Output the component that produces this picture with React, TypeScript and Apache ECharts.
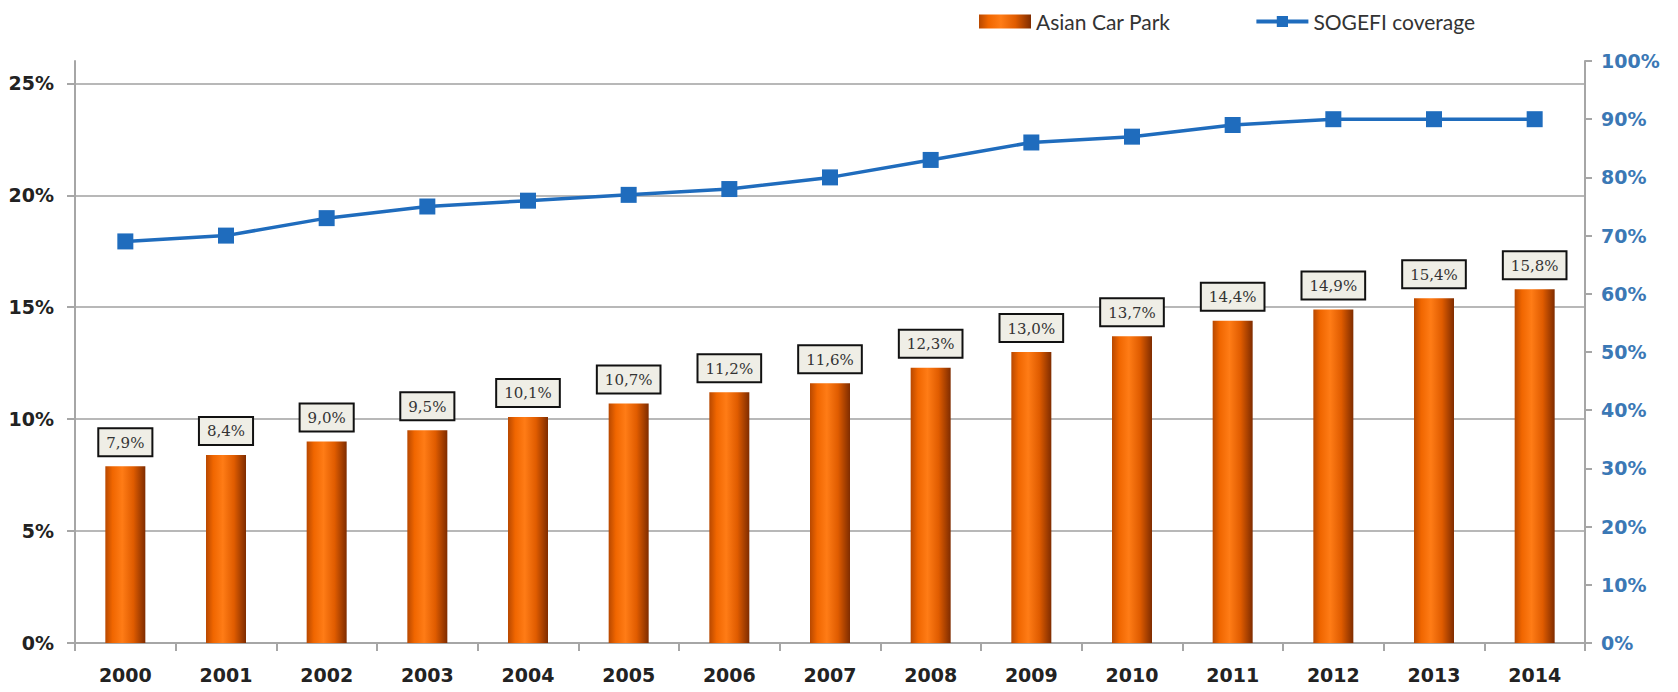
import React, { useEffect, useRef } from "react";
import * as echarts from "echarts";

const years = ["2000","2001","2002","2003","2004","2005","2006","2007","2008","2009","2010","2011","2012","2013","2014"];
const asianCarPark = [7.9, 8.4, 9.0, 9.5, 10.1, 10.7, 11.2, 11.6, 12.3, 13.0, 13.7, 14.4, 14.9, 15.4, 15.8];
const sogefiCoverage = [69, 70, 73, 75, 76, 77, 78, 80, 83, 86, 87, 89, 90, 90, 90];

export default function App() {
  const ref = useRef<HTMLDivElement>(null);
  useEffect(() => {
    document.body.style.margin = "0";
    const chart = echarts.init(ref.current!, null, { renderer: "svg" });
    const barColor = new echarts.graphic.LinearGradient(0, 0, 1, 0, [
      { offset: 0, color: "#b84800" },
      { offset: 0.18, color: "#f06600" },
      { offset: 0.42, color: "#ff7c16" },
      { offset: 0.7, color: "#e05c00" },
      { offset: 1, color: "#7f2c00" },
    ]);
    const axisFont = { fontWeight: "bold", fontSize: 19, fontFamily: "DejaVu Sans" };
    chart.setOption({
      animation: false,
      backgroundColor: "#ffffff",
      legend: {
        left: 974,
        top: 6,
        itemGap: 84,
        itemWidth: 52,
        itemHeight: 14,
        textStyle: { fontFamily: "Lato", fontSize: 21, color: "#333" },
        data: [
          { name: "Asian Car Park", icon: "rect" },
          { name: "SOGEFI coverage", itemStyle: { color: "#1f6cbd" } },
        ],
        lineStyle: { width: 4 },
      },
      grid: { left: 75, right: 93, top: 61, bottom: 49 },
      xAxis: {
        type: "category",
        data: years,
        axisLine: { lineStyle: { color: "#a6a6a6", width: 2 } },
        axisTick: { show: true, length: 8, lineStyle: { color: "#a6a6a6", width: 2 } },
        axisLabel: { color: "#222", ...axisFont, margin: 22 },
      },
      yAxis: [
        {
          type: "value",
          min: 0,
          max: 26,
          interval: 5,
          axisLine: { show: true, lineStyle: { color: "#a6a6a6", width: 2 } },
          axisTick: { show: true, length: 8, lineStyle: { color: "#a6a6a6", width: 2 } },
          axisLabel: {
            showMaxLabel: false,
            formatter: (v: number) => (v === 26 ? "" : v + "%"),
            color: "#222", ...axisFont, margin: 21,
          },
          splitLine: { show: true, showMaxLine: false, lineStyle: { color: "#a0a0a0", width: 1.5 } },
        },
        {
          type: "value",
          min: 0,
          max: 100,
          interval: 10,
          position: "right",
          axisLine: { show: true, lineStyle: { color: "#a6a6a6", width: 2 } },
          axisTick: { show: true, length: 7, lineStyle: { color: "#a6a6a6", width: 2 } },
          axisLabel: { formatter: "{value}%", color: "#3b78b5", ...axisFont, margin: 16 },
          splitLine: { show: false },
        },
      ],
      series: [
        {
          name: "Asian Car Park",
          type: "bar",
          data: asianCarPark,
          barWidth: 40,
          itemStyle: { color: barColor },
          label: {
            show: true,
            position: "top",
            distance: 11,
            formatter: (p: any) => p.value.toFixed(1).replace(".", ",") + "%",
            fontFamily: "DejaVu Serif",
            fontSize: 15,
            color: "#333",
            backgroundColor: "#efeee6",
            borderColor: "#111",
            borderWidth: 2,
            padding: [6, 7, 5, 7],
          },
        },
        {
          name: "SOGEFI coverage",
          type: "line",
          yAxisIndex: 1,
          data: sogefiCoverage,
          symbol: "rect",
          symbolSize: 16,
          lineStyle: { color: "#1f6cbd", width: 3.5 },
          itemStyle: { color: "#1f6cbd" },
        },
      ],
    });
    return () => chart.dispose();
  }, []);
  return <div ref={ref} style={{ width: 1678, height: 692 }} />;
}
